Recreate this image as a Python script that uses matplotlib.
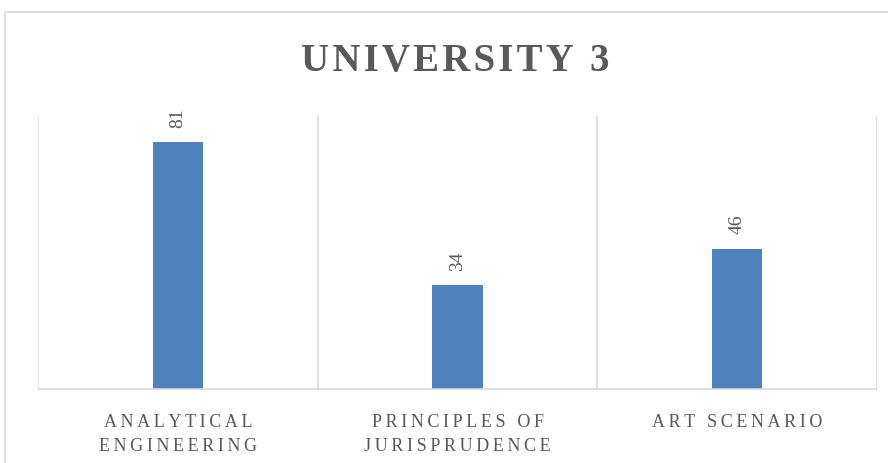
import matplotlib.pyplot as plt
from matplotlib.patches import Rectangle

categories = ["ANALYTICAL\nENGINEERING", "PRINCIPLES OF\nJURISPRUDENCE", "ART SCENARIO"]
scores = [81, 34, 46]
title = "UNIVERSITY 3"

bar_color = "#4F81BD"
text_color = "#595959"
grid_color = "#D9D9D9"

plt.rcParams['font.family'] = ['Liberation Serif', 'DejaVu Serif']


def spaced(s, gap="\u2009"):
    # crude letter spacing: put a thin space between the letters of each line
    return "\n".join(gap.join(line) for line in s.split("\n"))


fig = plt.figure(figsize=(8.88, 4.64), dpi=100)
ax = fig.add_axes([38 / 888, 1 - 390 / 464, 839 / 888, 273 / 464])

# chart frame, running off the right and bottom edges
fig.patches.append(Rectangle((5 / 888, -0.1), 1.2, 1 - 13 / 464 + 0.1,
                             transform=fig.transFigure, fill=False,
                             edgecolor=grid_color, linewidth=1.2))

x = range(len(categories))
bars = ax.bar(x, scores, width=0.18, color=bar_color, zorder=2)

ax.set_xlim(-0.5, len(categories) - 0.5)
ax.set_ylim(0, 89.5)

# category separators
for b in [-0.5, 0.5, 1.5, 2.5]:
    ax.axvline(b, color=grid_color, linewidth=1.2, zorder=1)

for spine in ["top", "right", "left"]:
    ax.spines[spine].set_visible(False)
ax.spines["bottom"].set_color(grid_color)
ax.spines["bottom"].set_linewidth(1.2)

ax.set_yticks([])
ax.set_xticks(list(x))
ax.set_xticklabels([spaced(c) for c in categories], color=text_color,
                   fontsize=13, linespacing=1.55, va="top")
ax.tick_params(axis="x", length=0, pad=17)

for rect, v in zip(bars, scores):
    ax.annotate(str(v), (rect.get_x() + rect.get_width() / 2, v),
                xytext=(0, 11), textcoords="offset points", rotation=90,
                ha="center", va="bottom", color=text_color, fontsize=14)

# title is centred on the frame, which is wider than the figure
fig.text(455 / 888, 1 - 61 / 464, spaced(title, "\u200a"), ha="center",
         va="center", fontsize=28, fontweight="bold", color=text_color)

fig.savefig("out.png", dpi=100)
